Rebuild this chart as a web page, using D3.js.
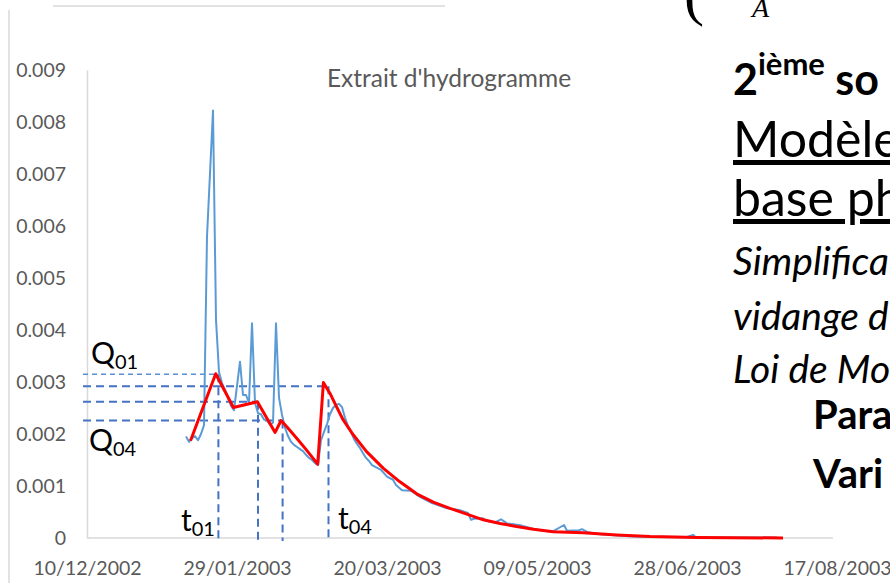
<!DOCTYPE html>
<html>
<head>
<meta charset="utf-8">
<script src="https://cdn.jsdelivr.net/npm/d3@7"></script>
<style>
  body { margin: 0; background: #fff; }
  svg { display: block; font-family: Lato, "Open Sans", sans-serif; }
</style>
</head>
<body>
<svg id="chart" width="890" height="583"></svg>
<script>
// days counted from 10/12/2002
var startDate = new Date(2002, 11, 10);
var tickLabels = ["10/12/2002", "29/01/2003", "20/03/2003", "09/05/2003", "28/06/2003", "17/08/2003"];
var yTicks = [0, 0.001, 0.002, 0.003, 0.004, 0.005, 0.006, 0.007, 0.008, 0.009];

// observed flow (blue)
var obsDay = [33, 34, 35, 36, 37, 38, 39, 40, 42, 43, 44, 45, 46, 47, 48, 49, 51, 52, 53, 54, 55, 56, 57, 58, 59, 60, 61, 62, 63, 64,
  65, 66, 67, 68, 69, 70, 71, 72, 73, 74, 75, 76, 77, 78, 79, 80, 81, 82, 83, 84, 85, 86, 87, 88, 89, 90, 91, 92, 93, 94, 95,
  98, 100, 102, 103, 105, 108, 111, 115, 120, 124, 127, 128, 129, 132, 133, 136, 138, 140, 144, 148, 151, 155, 159, 160,
  164, 165, 167, 171, 182, 200, 202, 203, 230];
var obsQ = [0.00195, 0.00185, 0.00192, 0.00196, 0.00188, 0.00200, 0.00217, 0.00580, 0.00822, 0.00420, 0.00319, 0.00298,
  0.00285, 0.00271, 0.00254, 0.00246, 0.00339, 0.00275, 0.00275, 0.00260, 0.00413, 0.00260, 0.00240, 0.00238, 0.00228,
  0.00226, 0.00218, 0.00222, 0.00413, 0.00270, 0.00237, 0.00212, 0.00196, 0.00185, 0.00179, 0.00175, 0.00171, 0.00167,
  0.00160, 0.00154, 0.00150, 0.00144, 0.00140, 0.00188, 0.00204, 0.00219, 0.00238, 0.00250, 0.00256, 0.00258, 0.00252,
  0.00231, 0.00215, 0.00204, 0.00190, 0.00181, 0.00173, 0.00163, 0.00154, 0.00148, 0.00140,
  0.00131, 0.00118, 0.00112, 0.00102, 0.00092, 0.00091, 0.00079, 0.00067, 0.00057, 0.00054, 0.00048, 0.00035, 0.00037,
  0.00038, 0.00033, 0.00030, 0.00036, 0.00028, 0.00025, 0.00019, 0.00015, 0.00012, 0.00025, 0.00014, 0.00015, 0.00017,
  0.00011, 0.00007, 0.00003, 0.00002, 0.00006, 0.00001, 0.00001];

// model (red)
var modDay = [34.5, 42.9, 48.8, 56.8, 62.7, 64.7, 66.6, 69.9, 73.2, 76.9, 78.8, 81, 83.2, 85.4, 88.8, 93.2, 98.8, 104.3,
  109.9, 115.4, 121, 126.6, 132.1, 137.7, 143.2, 148.8, 155.4, 165.4, 176.6, 187.7, 203.2, 232];
var modQ = [0.00187, 0.00316, 0.00251, 0.00262, 0.00203, 0.00226, 0.00214, 0.00192, 0.00169, 0.00142, 0.00299, 0.00278,
  0.00252, 0.00227, 0.00198, 0.00166, 0.00134, 0.00108, 0.00085, 0.00069, 0.00057, 0.00046, 0.00035, 0.00028, 0.00022,
  0.00017, 0.00012, 0.00010, 0.00006, 0.00003, 0.00001, 0];

// dashed markers: Q0 levels, horizontal end day, vertical day
var markQ = [0.00315, 0.00292, 0.00262, 0.00226];
var markEnd = [43.2, 78.8, 56.8, 64.7];
var markT = [43.8, 80.5, 57, 65.2];

function dayToDate(d) { return new Date(startDate.getTime() + d * 864e5); }
var parseTick = d3.timeParse("%d/%m/%Y");

var svg = d3.select("#chart");
var plotLeft = 87, plotRight = 837, plotTop = 70, plotBottom = 538;

var x = d3.scaleTime()
  .domain([parseTick(tickLabels[0]), parseTick(tickLabels[tickLabels.length - 1])])
  .range([plotLeft, plotRight]);
var y = d3.scaleLinear().domain([0, 0.009]).range([plotBottom, plotTop]);

// slide frame bits
svg.append("line").attr("x1", 53).attr("x2", 445).attr("y1", 6).attr("y2", 6)
  .attr("stroke", "#d9d9d9").attr("stroke-width", 1.5);
svg.append("line").attr("x1", 9).attr("x2", 9).attr("y1", 10).attr("y2", 583)
  .attr("stroke", "#d9d9d9").attr("stroke-width", 1.5);

// axes
var xAxis = svg.append("g")
  .attr("transform", "translate(0," + plotBottom + ")")
  .call(d3.axisBottom(x).tickValues(tickLabels.map(parseTick)).tickSize(0).tickPadding(0)
    .tickFormat(d3.timeFormat("%d/%m/%Y")));
xAxis.select(".domain").attr("stroke", "#d9d9d9").attr("stroke-width", 1.5).attr("d", "M" + plotLeft + ",0H833");
xAxis.selectAll("text").attr("dy", null).attr("y", 37)
  .attr("fill", "#595959").style("font-size", "19.5px").style("font-family", "Lato");

var yAxis = svg.append("g")
  .attr("transform", "translate(" + plotLeft + ",0)")
  .call(d3.axisLeft(y).tickValues(yTicks).tickSize(0).tickPadding(21)
    .tickFormat(function(d) { return d === 0 ? "0" : d3.format(".3f")(d); }));
yAxis.select(".domain").attr("stroke", "#d9d9d9").attr("stroke-width", 1.5);
yAxis.selectAll("text").attr("fill", "#595959").style("font-size", "19.5px").style("font-family", "Lato");

// title
svg.append("text").attr("x", 449).attr("y", 87).attr("text-anchor", "middle")
  .attr("fill", "#595959").style("font-size", "24.5px").text("Extrait d'hydrogramme");

// dashed markers
markQ.forEach(function(q, i) {
  var thin = i === 0;
  svg.append("line")
    .attr("x1", plotLeft - 4).attr("x2", x(dayToDate(markEnd[i])))
    .attr("y1", y(q)).attr("y2", y(q))
    .attr("stroke", thin ? "#5b8fd3" : "#4472c4").attr("stroke-width", thin ? 1.5 : 2)
    .attr("stroke-dasharray", thin ? "5,4" : "8,5");
  svg.append("line")
    .attr("x1", x(dayToDate(markT[i]))).attr("x2", x(dayToDate(markT[i])))
    .attr("y1", y(q)).attr("y2", plotBottom + 3)
    .attr("stroke", "#4472c4").attr("stroke-width", 2)
    .attr("stroke-dasharray", "8,5");
});

// series
var line = d3.line()
  .x(function(d) { return x(dayToDate(d[0])); })
  .y(function(d) { return y(d[1]); });

svg.append("path")
  .datum(d3.zip(obsDay, obsQ))
  .attr("d", line)
  .attr("fill", "none")
  .attr("stroke", "#5b9bd5")
  .attr("stroke-width", 2)
  .attr("stroke-linejoin", "round");

svg.append("path")
  .datum(d3.zip(modDay, modQ))
  .attr("d", line)
  .attr("fill", "none")
  .attr("stroke", "#ff0000")
  .attr("stroke-width", 3)
  .attr("stroke-linejoin", "round");

// annotation labels
function subLabel(xp, yp, main, sub) {
  var t = svg.append("text").attr("x", xp).attr("y", yp).attr("fill", "#000").style("font-size", "30px");
  t.append("tspan").text(main);
  t.append("tspan").attr("dy", 5).style("font-size", "20px").text(sub);
}
subLabel(91, 364, "Q", "01");
subLabel(89, 451, "Q", "04");
subLabel(181, 531, "t", "01");
subLabel(338, 529, "t", "04");

// slide text on the right
svg.append("text").attr("x", 684).attr("y", 14).style("font-family", "Liberation Serif")
  .style("font-size", "60px").attr("fill", "#000").text("(");
svg.append("text").attr("x", 752).attr("y", 17).style("font-family", "Liberation Serif")
  .style("font-style", "italic").style("font-size", "28px").attr("fill", "#000").text("A");

var t2 = svg.append("text").attr("x", 733).attr("y", 95).attr("fill", "#000")
  .style("font-weight", "bold").style("font-size", "43px");
t2.append("tspan").text("2");
t2.append("tspan").attr("dy", -20).style("font-size", "31px").text("ième");
t2.append("tspan").attr("dy", 20).text(" so");

svg.append("text").attr("x", 733).attr("y", 157).attr("fill", "#000").style("font-size", "50px")
  .style("text-decoration", "underline").text("Modèle");
svg.append("text").attr("x", 733).attr("y", 216).attr("fill", "#000").style("font-size", "50px")
  .style("text-decoration", "underline").text("base ph");
svg.append("text").attr("x", 733).attr("y", 275).attr("fill", "#000").style("font-size", "39px")
  .style("font-style", "italic").text("Simplifica");
svg.append("text").attr("x", 733).attr("y", 330).attr("fill", "#000").style("font-size", "39px")
  .style("font-style", "italic").text("vidange d");
svg.append("text").attr("x", 733).attr("y", 383).attr("fill", "#000").style("font-size", "39px")
  .style("font-style", "italic").text("Loi de Mo");
svg.append("text").attr("x", 813).attr("y", 429).attr("fill", "#000").style("font-size", "40px")
  .style("font-weight", "bold").text("Para");
svg.append("text").attr("x", 813).attr("y", 488).attr("fill", "#000").style("font-size", "40px")
  .style("font-weight", "bold").text("Vari");
</script>
</body>
</html>
